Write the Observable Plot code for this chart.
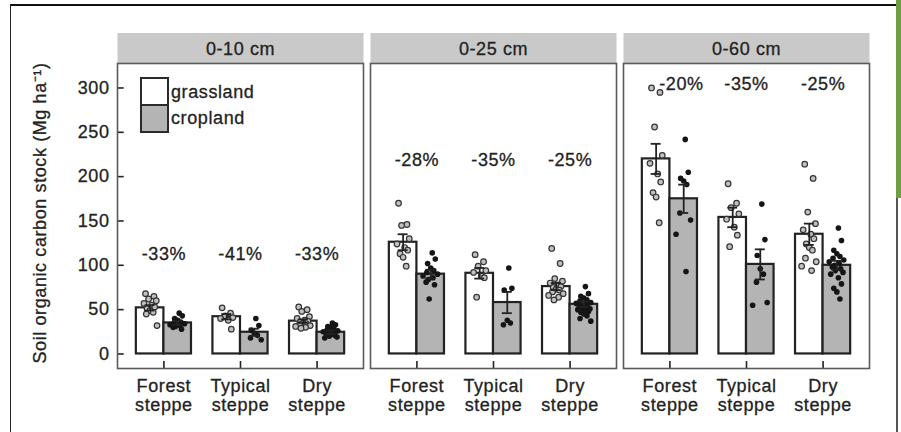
<!DOCTYPE html>
<html>
<head>
<meta charset="utf-8">
<script src="https://cdn.jsdelivr.net/npm/d3@7"></script>
<script src="https://cdn.jsdelivr.net/npm/@observablehq/plot@0.6"></script>
<style>
  html, body { margin: 0; padding: 0; background: #fff; }
  #wrap { position: relative; width: 901px; height: 432px; background: #fff; overflow: hidden;
          font-family: Arial, "Liberation Sans", sans-serif; color: #222;
          box-sizing: border-box; }
  #chart svg { display: block; }
  #chart svg text { stroke: #222; stroke-width: 0.3px; }
  #frameline { position: absolute; left: 9.5px; top: 3.5px; width: 886.5px; height: 440px;
               border-top: 2px solid #111; border-left: 1.5px solid #222; box-sizing: border-box; z-index: 5; pointer-events: none; }
  .deco { position: absolute; z-index: 5; }
  #legend { position: absolute; left: 140px; top: 77px; }
  .sw { position: absolute; width: 25px; height: 25px; border: 2px solid #2a2a2a; box-sizing: content-box; }
  .lt { position: absolute; font-size: 18px; letter-spacing: 0.6px; white-space: nowrap; line-height: 18px;
        -webkit-text-stroke: 0.3px #222; }
</style>
</head>
<body>
<div id="wrap">
  <div id="chart"></div>
  <div id="legend"></div>
  <div id="frameline"></div>
  <div class="deco" style="left:896px;top:0;width:5px;height:198px;background:#6f9f45"></div>
  <div class="deco" style="left:896px;top:198px;width:1.5px;height:234px;background:#555"></div>
</div>
<script>
// ---------- data ----------
const depths = ["0-10 cm", "0-25 cm", "0-60 cm"];
const habitats = ["Forest steppe", "Typical steppe", "Dry steppe"];
const habitatLabels = ["Forest\nsteppe", "Typical\nsteppe", "Dry\nsteppe"];
const landUses = ["grassland", "cropland"];
const yTicks = [0, 50, 100, 150, 200, 250, 300];
const yTitle = "Soil organic carbon stock (Mg ha\u207B\u00B9)";

// bar means (rows: depth, cols: habitat)
const grassMean = [[52, 42, 37], [126, 91, 76], [220, 154, 135]];
const cropMean  = [[35, 24.5, 24.5], [90, 58, 56], [175, 101, 100]];
// standard errors
const grassSE = [[3, 3, 2], [9, 6, 4], [17, 11, 12]];
const cropSE  = [[2, 4, 2], [5, 12, 3], [16, 17, 5]];
// relative change labels
const changeLabels = [["-33%", "-41%", "-33%"], ["-28%", "-35%", "-25%"], ["-20%", "-35%", "-25%"]];
const changeLabelY = [113, 218, 304];

// individual observations
const grassland010 = [[68, 65, 62, 60, 57, 55, 53, 51, 49, 47, 45, 32], [52, 46, 43, 41, 40, 38, 28], [53, 50, 48, 42, 40, 38, 37, 36, 35, 34, 33, 32, 31, 30, 29]];
const cropland010  = [[46, 43, 40, 38, 36, 35, 34, 33, 32, 31, 30, 28], [40, 32, 27, 23, 21, 18, 16], [35, 33, 31, 30, 28, 27, 26, 25, 24, 23, 22, 21, 20, 19, 18]];
const grassland025 = [[170, 146, 145, 130, 124, 120, 117, 113, 109, 99], [112, 104, 99, 94, 92, 88, 86, 64], [119, 102, 85, 82, 80, 78, 76, 75, 73, 72, 70, 68, 66, 64, 61]];
const cropland025  = [[114, 107, 102, 97, 94, 92, 90, 88, 86, 84, 81, 78, 62], [97, 74, 72, 38, 35, 33], [76, 68, 65, 63, 61, 60, 58, 57, 56, 55, 54, 53, 52, 51, 50, 49, 48, 47, 45, 43, 40, 37]];
const grassland060 = [[300, 295, 256, 224, 215, 203, 194, 182, 177, 148], [192, 170, 165, 158, 152, 143, 134, 121], [214, 198, 160, 147, 140, 135, 130, 124, 120, 117, 108, 104, 99, 94]];
const cropland060  = [[242, 205, 198, 195, 191, 159, 151, 135, 93], [169, 129, 111, 96, 90, 81, 58, 55], [142, 128, 117, 113, 110, 108, 106, 104, 102, 100, 98, 96, 94, 92, 90, 86, 79, 74, 70, 62]];

// ---------- styles / layout ----------
const grassFill = "#ffffff";
const cropFill = "#b4b4b4";
const ink = "#222222";
const stripFill = "#c9c9c9";
const panelStroke = "#5a5a5a";
const W = 901, H = 432;
const mL = 116.5, mR = 31.5, mT = 63, mB = 64;
const fxPadInner = 0.0276;
const panelW = (W - mL - mR) / (3 - fxPadInner) * (1 - fxPadInner);
const panelH = H - mT - mB;
const xDomain = [-0.606, 2.606];
const half = 0.36;       // half group width in x units (one bar)
const cap = 0.065;       // error bar cap half width
const jitter = [-0.06, 0.05, -0.02, 0.08, -0.08, 0.02, 0.06, -0.04, 0.0, 0.04, -0.05, 0.09, -0.1, 0.03, -0.03];
const labelNudge = {"0-60 cm|0": 0.15};  // keeps the "-20%" label clear of the highest points

// ---------- build tables ----------
const grassPts = [grassland010, grassland025, grassland060];
const cropPts = [cropland010, cropland025, cropland060];
const bars = [], points = [], labels = [];
depths.forEach((dep, di) => {
  habitats.forEach((h, hi) => {
    const gC = hi - half / 2, cC = hi + half / 2;
    bars.push({depth: dep, lu: landUses[0], x1: hi - half, x2: hi, xc: gC, mean: grassMean[di][hi], se: grassSE[di][hi]});
    bars.push({depth: dep, lu: landUses[1], x1: hi, x2: hi + half, xc: cC, mean: cropMean[di][hi], se: cropSE[di][hi]});
    grassPts[di][hi].forEach((v, j) => points.push({depth: dep, lu: landUses[0], x: gC + jitter[j % jitter.length], y: v}));
    cropPts[di][hi].forEach((v, j) => points.push({depth: dep, lu: landUses[1], x: cC + jitter[(j + 5) % jitter.length], y: v}));
    labels.push({depth: dep, x: hi + (labelNudge[dep + "|" + hi] || 0), y: changeLabelY[di], text: changeLabels[di][hi]});
  });
});
const caps = bars.flatMap(b => [{...b, y: b.mean - b.se}, {...b, y: b.mean + b.se}]);
const habIdx = habitats.map((h, i) => i);

const chart = Plot.plot({
  width: W, height: H,
  marginLeft: mL, marginRight: mR, marginTop: mT, marginBottom: mB,
  style: {fontFamily: 'Arial, "Liberation Sans", sans-serif', fontSize: "18px", color: ink, background: "#fff", letterSpacing: "0.6px", overflow: "visible"},
  fx: {domain: depths, paddingInner: fxPadInner, paddingOuter: 0, axis: null, label: null},
  x: {domain: xDomain, axis: null},
  y: {domain: [-16.4, 327.6], axis: null},
  marks: [
    // facet strips
    Plot.frame({fill: stripFill, stroke: null, insetTop: -30.5, insetBottom: panelH}),
    Plot.text(depths, {fx: d => d, text: d => d, frameAnchor: "top", lineAnchor: "middle", dy: -14, fill: ink}),
    // bars
    Plot.rect(bars.filter(b => b.lu === landUses[0]), {fx: "depth", x1: "x1", x2: "x2", y1: d => 0, y2: "mean", fill: grassFill, stroke: ink, strokeWidth: 2.2}),
    Plot.rect(bars.filter(b => b.lu === landUses[1]), {fx: "depth", x1: "x1", x2: "x2", y1: d => 0, y2: "mean", fill: cropFill, stroke: ink, strokeWidth: 2.2}),
    // observations
    Plot.dot(points.filter(p => p.lu === landUses[0]), {fx: "depth", x: "x", y: "y", r: 2.8, fill: "#c0c0c0", stroke: "#333", strokeWidth: 1.2}),
    Plot.dot(points.filter(p => p.lu === landUses[1]), {fx: "depth", x: "x", y: "y", r: 2.8, fill: "#151515", stroke: null}),
    // error bars
    Plot.ruleX(bars, {fx: "depth", x: "xc", y1: d => d.mean - d.se, y2: d => d.mean + d.se, stroke: ink, strokeWidth: 1.8}),
    Plot.ruleY(caps, {fx: "depth", y: "y", x1: d => d.xc - cap, x2: d => d.xc + cap, stroke: ink, strokeWidth: 1.8}),
    // percent change labels
    Plot.text(labels, {fx: "depth", x: "x", y: "y", text: "text", fill: ink}),
    // inward ticks
    Plot.tickX(habIdx, {x: d => d, insetTop: panelH - 7, stroke: ink, strokeWidth: 1.6}),
    Plot.tickY(yTicks, {fx: () => depths[0], y: d => d, insetRight: panelW - 7, stroke: ink, strokeWidth: 1.6}),
    // tick labels
    Plot.text(habIdx, {x: d => d, text: d => habitatLabels[d], frameAnchor: "bottom", lineAnchor: "top", dy: 9, lineHeight: 1.1, fill: ink}),
    Plot.text(yTicks, {fx: () => depths[0], y: d => d, text: d => String(d), frameAnchor: "left", textAnchor: "end", dx: -8, fill: ink}),
    Plot.text([yTitle], {fx: () => depths[0], text: d => d, frameAnchor: "left", textAnchor: "middle", lineAnchor: "middle", rotate: -90, dx: -77, dy: -3, fill: ink}),
    // panel borders
    Plot.frame({stroke: panelStroke, strokeWidth: 1.6})
  ]
});
document.getElementById("chart").appendChild(chart);

// legend
const legend = document.getElementById("legend");
[grassFill, cropFill].forEach((c, i) => {
  const s = document.createElement("div");
  s.className = "sw";
  s.style.left = "0px";
  s.style.top = (i * 27) + "px";
  s.style.background = c;
  legend.appendChild(s);
  const t = document.createElement("div");
  t.className = "lt";
  t.style.left = "31px";
  t.style.top = (i * 26 + 6) + "px";
  t.textContent = landUses[i];
  legend.appendChild(t);
});
</script>
</body>
</html>
